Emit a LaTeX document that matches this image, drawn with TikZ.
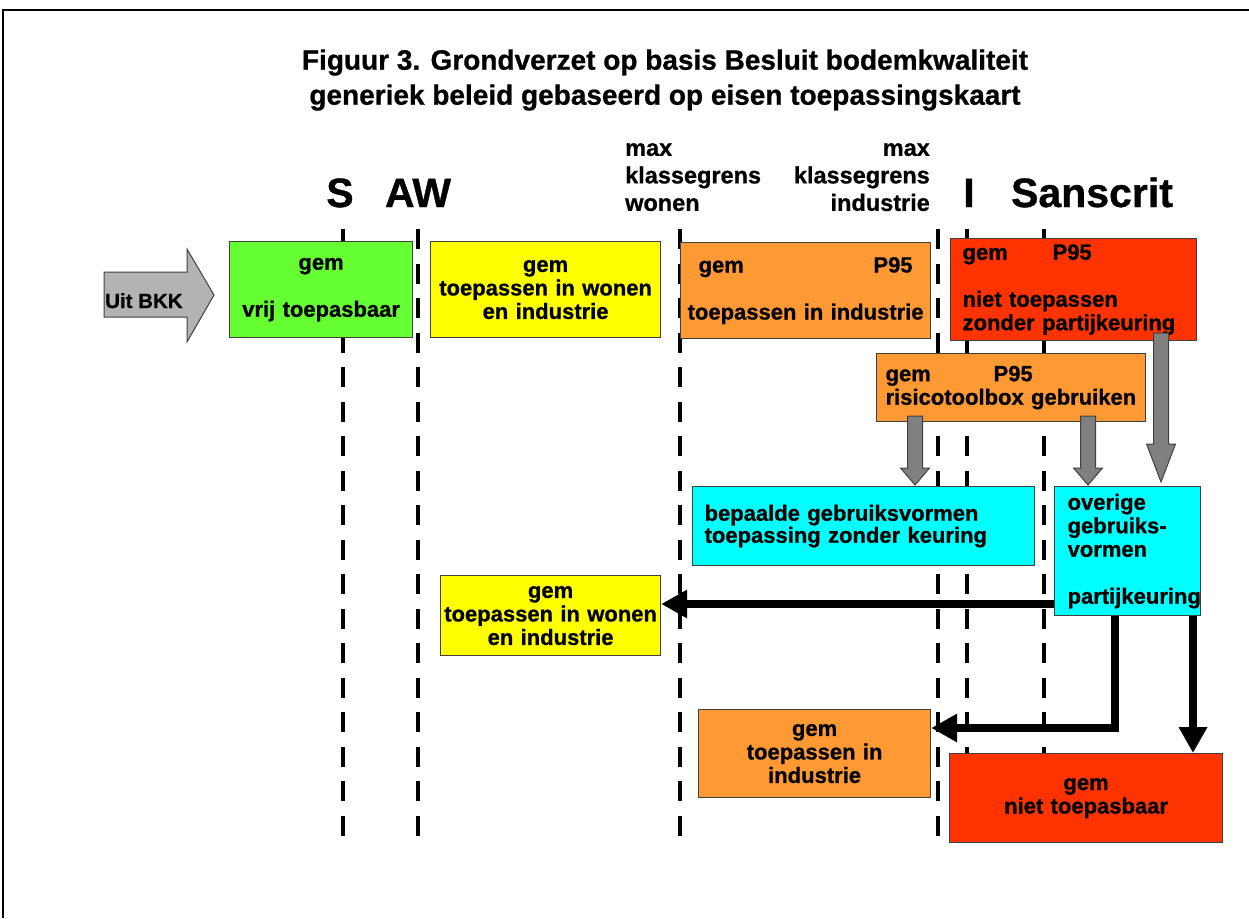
\documentclass[tikz,border=0pt]{standalone}
\usepackage{fontspec}
\setmainfont{Liberation Sans}[BoldFeatures={FakeBold=0.8}]
\usetikzlibrary{arrows.meta,calc}
\definecolor{cgreen}{HTML}{66FF33}
\definecolor{cyellow}{HTML}{FFFF00}
\definecolor{corange}{HTML}{FF9933}
\definecolor{cred}{HTML}{FF3300}
\definecolor{ccyan}{HTML}{00FFFF}
\definecolor{cgrayA}{HTML}{808080}
\definecolor{cgrayB}{HTML}{B3B3B3}
\definecolor{cedge}{HTML}{404040}
\newcommand\grayblockarrow[4]{%
  \filldraw[fill=cgrayA, draw=cedge, line width=1pt, line join=miter]
    (#1-7.5,#2) -- (#1+7.5,#2) -- (#1+7.5,#3) -- (#1+14.5,#3) -- (#1,#4)
    -- (#1-14.5,#3) -- (#1-7.5,#3) -- cycle;}
\begin{document}
\begin{tikzpicture}[x=1pt,y=-1pt,
  boxtext/.style={font=\fontsize{22}{23.5}\selectfont\bfseries},
  box/.style={draw=cedge, line width=1.2pt, anchor=north west, inner sep=0pt, boxtext},
  cbox/.style={box, align=center},
  lbox/.style={box, align=left, inner xsep=12pt},
  dline/.style={line width=4.5pt, dash pattern=on 20pt off 14.5pt},
  barrow/.style={line width=8pt, line join=miter, -{Triangle[width=27pt,length=26pt]}},
  lblfont/.style={font=\fontsize{23.5}{27.5}\selectfont\bfseries, inner sep=0pt},
  bigfont/.style={font=\fontsize{41}{41}\selectfont\bfseries, inner sep=0pt, anchor=base}]
\useasboundingbox (0,0) rectangle (1249,918);
% frame
\draw[line width=2pt] (1249,10) -- (3,10) -- (3,918);
% title
\node[font=\fontsize{28}{35}\selectfont\bfseries, align=center, inner sep=0pt] (title) at (665,80)
  {Figuur 3. Grondverzet op basis Besluit bodemkwaliteit\\generiek beleid gebaseerd op eisen toepassingskaart};
% column labels
\node[bigfont] (lS) at (340,207) {S};
\node[bigfont] (lAW) at (418,207) {AW};
\node[bigfont] (lI) at (969,207) {I};
\node[bigfont] (lSan) at (1092,207) {Sanscrit};
\node[lblfont, align=left, anchor=north west] (mw) at (625,143) {max\\klassegrens\\wonen};
\node[lblfont, align=right, anchor=north east] (mi) at (930,143) {max\\klassegrens\\industrie};
% dashed lines
\foreach \xx in {343,418,680,938,967,1044}
  \draw[dline] (\xx,229) -- (\xx,836);
% Uit BKK arrow
\filldraw[fill=cgrayB, draw=cedge, line width=1pt, line join=miter]
  (104,272) -- (187,272) -- (187,249) -- (214,295) -- (187,342) -- (187,317) -- (104,317) -- cycle;
\node[font=\fontsize{20.5}{20}\selectfont\bfseries, anchor=base west, inner sep=0pt] (bkk) at (105,308) {Uit BKK};
% row 1
\node[cbox, fill=cgreen, minimum width=183pt, minimum height=96pt, text width=183pt] (g1) at (229,241)
  {gem\\[23.5pt]vrij toepasbaar};
\node[cbox, fill=cyellow, minimum width=230pt, minimum height=96pt, text width=230pt] (y1) at (430,241)
  {gem\\toepassen in wonen\\en industrie};
\node[cbox, fill=corange, minimum width=250pt, minimum height=96pt, text width=244pt, inner xsep=3pt] (o1) at (680,242)
  {\makebox[214pt]{gem\hfill P95}\\[23.5pt]toepassen in industrie};
\node[lbox, fill=cred, minimum width=246pt, minimum height=102pt, text width=222pt] (r1) at (950,238)
  {\makebox[90pt][l]{gem}P95\\[23.5pt]niet toepassen\\zonder partijkeuring};
\node[lbox, fill=corange, minimum width=269pt, minimum height=68pt, text width=251pt, inner xsep=9pt] (o2) at (876,353)
  {\makebox[108pt][l]{gem}P95\\risicotoolbox gebruiken};
% gray arrows
\grayblockarrow{915}{416}{468}{485}
\grayblockarrow{1088}{416}{468}{485}
\grayblockarrow{1161}{333}{444}{482}
% row 3
\node[lbox, fill=ccyan, minimum width=342pt, minimum height=79pt, text width=318pt] (c1) at (692,486)
  {bepaalde gebruiksvormen\\[-1.5pt]toepassing zonder keuring};
\node[lbox, fill=ccyan, minimum width=146pt, minimum height=129pt, text width=120pt, inner xsep=13pt] (c2) at (1054,486)
  {overige\\gebruiks-\\vormen\\[23.5pt]partijkeuring};
\node[cbox, fill=cyellow, minimum width=220pt, minimum height=80pt, text width=220pt] (y2) at (440,575)
  {gem\\toepassen in wonen\\en industrie};
\node[cbox, fill=corange, minimum width=232pt, minimum height=88pt, text width=232pt] (o3) at (698,709)
  {gem\\toepassen in\\industrie};
\node[cbox, fill=cred, minimum width=273pt, minimum height=89pt, text width=273pt] (r2) at (949,753)
  {gem\\niet toepasbaar};
% black arrows
\draw[barrow] (c2.west |- 0,604) -- (y2.east |- 0,604);
\draw[barrow] (c2.south -| 1115,0) -- (1115,728) -- (o3.east |- 0,728);
\draw[barrow] (c2.south -| 1193,0) -- (r2.north -| 1193,0);
\end{tikzpicture}
\end{document}
